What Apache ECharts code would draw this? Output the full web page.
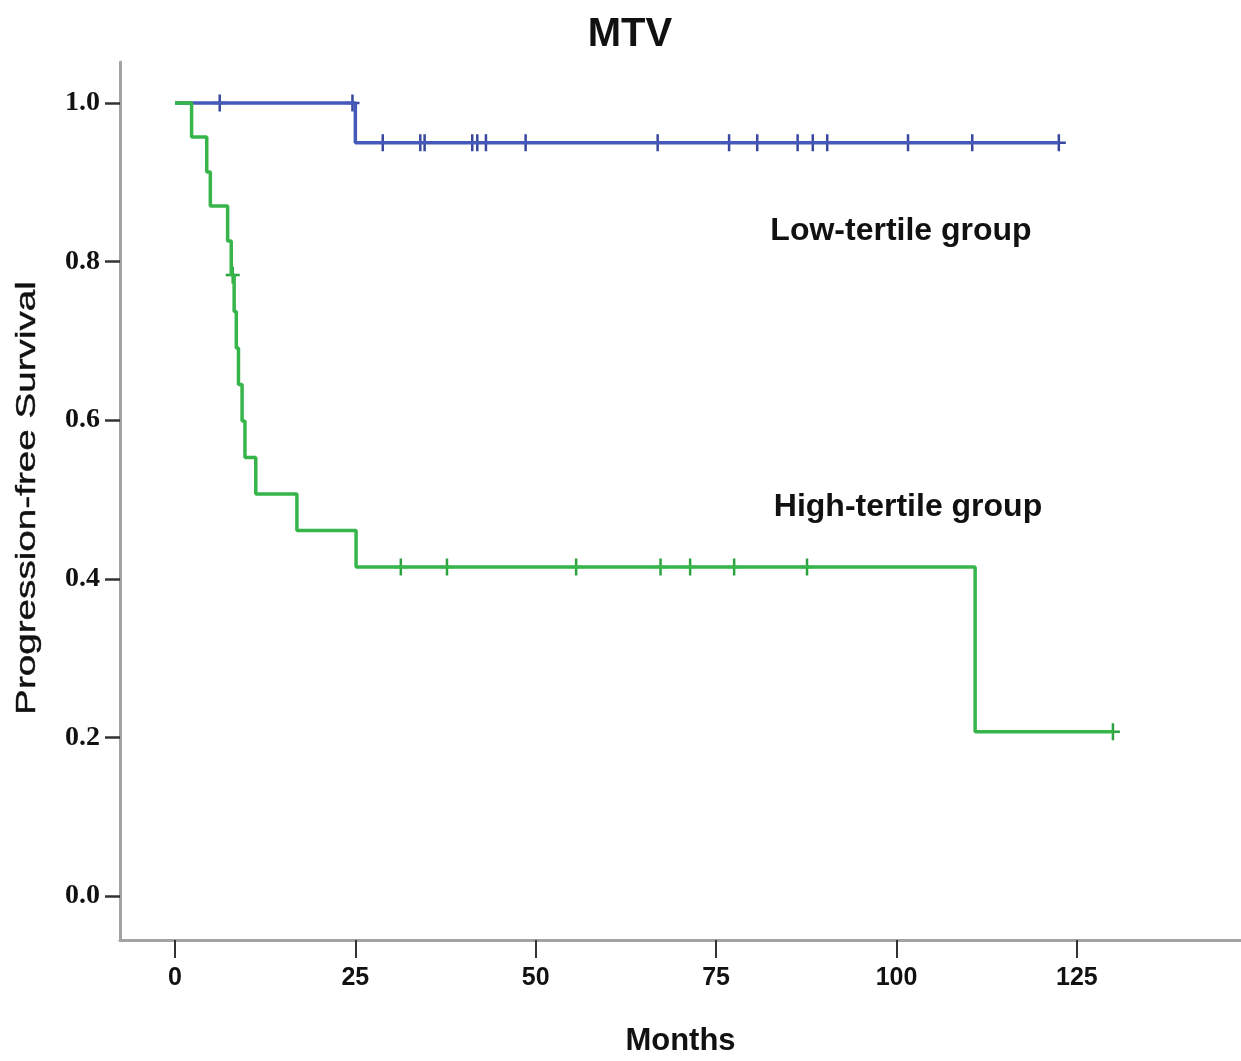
<!DOCTYPE html>
<html>
<head>
<meta charset="utf-8">
<script src="https://cdn.jsdelivr.net/npm/echarts@6/dist/echarts.min.js"></script>
<style>
  html, body { margin: 0; padding: 0; background: #fff; }
  #km { width: 1241px; height: 1061px; }
</style>
</head>
<body>
<div id="km"></div>
<script>
// tick labels
var xTicks = [0, 25, 50, 75, 100, 125];
var yTicks = [0, 0.2, 0.4, 0.6, 0.8, 1.0];

// low-tertile group: event times / survival after each event
var lowTimes = [0, 25.0];
var lowSurv = [1.0, 0.95];
var lowEnd = 122.5;
var lowCensor = [6.2, 24.6, 28.8, 34.0, 34.6, 41.2, 41.9, 43.1, 48.6, 66.9, 76.8,
                 80.7, 86.3, 88.4, 90.4, 101.6, 110.5, 122.5];

// high-tertile group
var highTimes = [0, 2.3, 4.4, 4.9, 7.3, 7.8, 8.2, 8.5, 8.8, 9.3, 9.7, 11.2, 16.9, 25.1, 110.9];
var highSurv = [1.0, 0.957, 0.913, 0.870, 0.826, 0.783, 0.737, 0.691, 0.645, 0.599, 0.553,
                0.507, 0.461, 0.415, 0.207];
var highEnd = 130.0;
var highCensor = [8.0, 31.3, 37.7, 55.6, 67.3, 71.4, 77.5, 87.6, 130.0];

// step points for a KM curve
function stepData(times, surv, end) {
    var d = [];
    for (var i = 0; i < times.length; i++) {
        d.push([times[i], surv[i]]);
    }
    d.push([end, surv[surv.length - 1]]);
    return d;
}

// survival value at time t (censor marks sit on the curve)
function survAt(times, surv, t) {
    var s = surv[0];
    for (var i = 0; i < times.length; i++) {
        if (times[i] <= t) s = surv[i];
    }
    return s;
}

function censorData(times, surv, cens) {
    return cens.map(function (t) { return [t, survAt(times, surv, t)]; });
}

var plus = 'path://M5.75,0 L8.25,0 L8.25,7.25 L14,7.25 L14,9.75 L8.25,9.75 L8.25,17 L5.75,17 L5.75,9.75 L0,9.75 L0,7.25 L5.75,7.25 Z';

var chart = echarts.init(document.getElementById('km'));

var option = {
    animation: false,
    backgroundColor: '#fff',
    title: {
        text: 'MTV',
        left: 625,
        top: 10,
        textAlign: 'center',
        textStyle: {
            fontFamily: 'Liberation Sans',
            fontSize: 40,
            fontWeight: 'bold',
            color: '#111'
        }
    },
    grid: {
        left: 120,
        right: 0,
        top: 62,
        bottom: 121,
        outerBoundsMode: 'none'
    },
    xAxis: {
        type: 'value',
        min: -7.62,
        max: 147.75,
        name: 'Months',
        nameLocation: 'middle',
        nameGap: 86,
        nameTextStyle: {
            fontFamily: 'Liberation Sans',
            fontSize: 31,
            fontWeight: 'bold',
            color: '#111'
        },
        axisLine: {onZero: false, lineStyle: {color: '#a3a3a3', width: 3}},
        axisTick: {
            show: true,
            length: 18,
            customValues: xTicks,
            lineStyle: {color: '#333', width: 2}
        },
        axisLabel: {
            customValues: xTicks,
            margin: 26,
            fontFamily: 'Liberation Sans Narrow, Liberation Sans',
            fontSize: 25,
            fontWeight: 'bold',
            color: '#111'
        },
        splitLine: {show: false}
    },
    yAxis: {
        type: 'value',
        min: -0.0555,
        max: 1.0517,
        axisLine: {show: true, onZero: false, lineStyle: {color: '#a3a3a3', width: 3}},
        axisTick: {
            show: true,
            length: 15,
            customValues: yTicks,
            lineStyle: {color: '#333', width: 2.5}
        },
        axisLabel: {
            customValues: yTicks,
            margin: 20,
            formatter: function (v) { return v.toFixed(1); },
            fontFamily: 'Liberation Serif',
            fontSize: 28,
            fontWeight: 'bold',
            color: '#111'
        },
        splitLine: {show: false}
    },
    graphic: [
        {
            type: 'text',
            x: 27,
            y: 498,
            rotation: Math.PI / 2,
            scaleX: 1.38,
            style: {
                text: 'Progression-free Survival',
                fontFamily: 'Liberation Sans',
                fontSize: 28,
                fill: '#111',
                stroke: '#111',
                lineWidth: 0.4,
                textAlign: 'center',
                textVerticalAlign: 'middle'
            }
        },
        {
            type: 'text',
            x: 901,
            y: 231,
            style: {
                text: 'Low-tertile group',
                fontFamily: 'Liberation Sans',
                fontSize: 32,
                fontWeight: 'bold',
                fill: '#111',
                textAlign: 'center',
                textVerticalAlign: 'middle'
            }
        },
        {
            type: 'text',
            x: 908,
            y: 507,
            style: {
                text: 'High-tertile group',
                fontFamily: 'Liberation Sans',
                fontSize: 32,
                fontWeight: 'bold',
                fill: '#111',
                textAlign: 'center',
                textVerticalAlign: 'middle'
            }
        }
    ],
    series: [
        {
            name: 'Low-tertile group',
            type: 'line',
            step: 'end',
            symbol: 'none',
            lineStyle: {color: '#4559bb', width: 3.5},
            data: stepData(lowTimes, lowSurv, lowEnd)
        },
        {
            name: 'Low censored',
            type: 'scatter',
            symbol: plus,
            symbolSize: [14, 17],
            itemStyle: {color: '#38489e', opacity: 1},
            data: censorData(lowTimes, lowSurv, lowCensor)
        },
        {
            name: 'High-tertile group',
            type: 'line',
            step: 'end',
            symbol: 'none',
            lineStyle: {color: '#36b54a', width: 3.5},
            data: stepData(highTimes, highSurv, highEnd)
        },
        {
            name: 'High censored',
            type: 'scatter',
            symbol: plus,
            symbolSize: [14, 17],
            itemStyle: {color: '#2ca33f', opacity: 1},
            data: censorData(highTimes, highSurv, highCensor)
        }
    ]
};

chart.setOption(option);
</script>
</body>
</html>
